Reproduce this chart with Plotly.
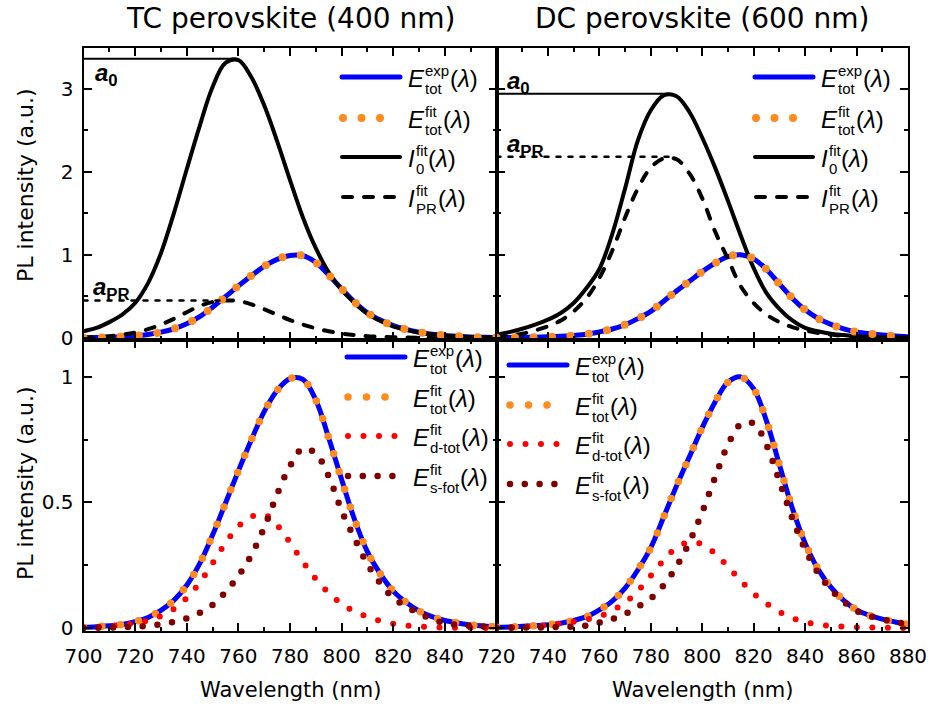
import plotly.graph_objects as go

# ---------------------------------------------------------------- data
WL_TC = list(range(700, 861, 5))
WL_DC = list(range(720, 881, 5))

# TC perovskite (400 nm excitation)
E_EXP_TC = [0.003, 0.005, 0.009, 0.014, 0.025, 0.042, 0.070, 0.110, 0.170, 0.256,
            0.370, 0.497, 0.626, 0.749, 0.862, 0.946, 0.993, 0.990, 0.908, 0.757,
            0.591, 0.432, 0.303, 0.215, 0.147, 0.102, 0.068, 0.045, 0.030, 0.020,
            0.012, 0.008, 0.005]
E_FIT_TC = E_EXP_TC
I0_TC = [0.08, 0.12, 0.19, 0.28, 0.42, 0.66, 1.02, 1.50, 2.03, 2.55,
         3.02, 3.31, 3.345, 3.14, 2.80, 2.37, 1.90, 1.45, 1.08, 0.79,
         0.58, 0.42, 0.29, 0.205, 0.14, 0.097, 0.064, 0.043, 0.028, 0.018,
         0.011, 0.007, 0.005]
IPR_TC = [0.005, 0.010, 0.020, 0.038, 0.065, 0.105, 0.160, 0.230, 0.310, 0.385,
          0.432, 0.450, 0.445, 0.405, 0.345, 0.280, 0.215, 0.160, 0.115, 0.080,
          0.053, 0.034, 0.021, 0.013, 0.008, 0.005, 0.003, 0.002, 0.001, 0.001,
          0.0, 0.0, 0.0]
D_TOT_TC = [0.002, 0.004, 0.007, 0.012, 0.019, 0.030, 0.048, 0.076, 0.120, 0.180,
            0.258, 0.338, 0.405, 0.443, 0.452, 0.410, 0.340, 0.264, 0.195, 0.140,
            0.097, 0.066, 0.045, 0.028, 0.017, 0.010, 0.006, 0.003, 0.002, 0.001,
            0.001, 0.0, 0.0]
S_FOT_TC = [0.0, 0.001, 0.002, 0.003, 0.005, 0.009, 0.015, 0.024, 0.038, 0.060,
            0.092, 0.143, 0.207, 0.290, 0.400, 0.532, 0.645, 0.715, 0.695, 0.604,
            0.467, 0.357, 0.254, 0.178, 0.120, 0.086, 0.058, 0.035, 0.020, 0.012,
            0.008, 0.006, 0.004]
A0_TC, A0_TC_WL = 3.36, 758
APR_TC, APR_TC_WL = 0.45, 757

# DC perovskite (600 nm excitation)
E_EXP_DC = [0.003, 0.004, 0.007, 0.009, 0.013, 0.019, 0.030, 0.045, 0.072, 0.107,
            0.159, 0.232, 0.320, 0.442, 0.566, 0.682, 0.798, 0.900, 0.979, 1.000,
            0.952, 0.824, 0.650, 0.478, 0.338, 0.235, 0.163, 0.110, 0.072, 0.050,
            0.035, 0.024, 0.014]
E_FIT_DC = E_EXP_DC
I0_DC = [0.04, 0.07, 0.11, 0.16, 0.22, 0.30, 0.42, 0.60, 0.83, 1.25,
         1.80, 2.38, 2.74, 2.92, 2.91, 2.72, 2.41, 2.05, 1.65, 1.23,
         0.84, 0.54, 0.35, 0.21, 0.12, 0.08, 0.05, 0.035, 0.02, 0.013,
         0.008, 0.005, 0.004]
IPR_DC = [0.02, 0.03, 0.05, 0.09, 0.14, 0.21, 0.32, 0.48, 0.72, 1.05,
          1.45, 1.80, 2.05, 2.16, 2.15, 1.98, 1.68, 1.28, 0.95, 0.62,
          0.42, 0.28, 0.19, 0.13, 0.09, 0.06, 0.04, 0.025, 0.015, 0.010,
          0.005, 0.003, 0.002]
D_TOT_DC = [0.002, 0.003, 0.005, 0.008, 0.012, 0.018, 0.025, 0.034, 0.046, 0.070,
            0.101, 0.148, 0.208, 0.270, 0.320, 0.342, 0.333, 0.296, 0.245, 0.188,
            0.137, 0.097, 0.064, 0.040, 0.024, 0.014, 0.008, 0.005, 0.003, 0.002,
            0.001, 0.0, 0.0]
S_FOT_DC = [0.001, 0.001, 0.002, 0.002, 0.003, 0.004, 0.006, 0.010, 0.022, 0.036,
            0.056, 0.085, 0.118, 0.170, 0.245, 0.342, 0.462, 0.600, 0.730, 0.812,
            0.815, 0.728, 0.585, 0.438, 0.313, 0.220, 0.153, 0.105, 0.068, 0.048,
            0.034, 0.024, 0.014]
A0_DC, A0_DC_WL = 2.94, 787.5
APR_DC, APR_DC_WL = 2.18, 787

# axis ticks
XT_TC = [700, 720, 740, 760, 780, 800, 820, 840]
XT_TC_MINOR = [710, 730, 750, 770, 790, 810, 830, 850]
XT_DC = [720, 740, 760, 780, 800, 820, 840, 860, 880]
XT_DC_MINOR = [730, 750, 770, 790, 810, 830, 850, 870]
YT_TOP = [0, 1, 2, 3]
YT_TOP_MINOR = [0.5, 1.5, 2.5]
YT_BOT = [0, 0.5, 1]
YT_BOT_MINOR = [0.25, 0.75]

TITLES = ["TC perovskite (400 nm)", "DC perovskite (600 nm)"]

# ---------------------------------------------------------------- styles
W, H = 933, 713
BLUE, ORANGE, RED, BROWN = "#0000FF", "#FF8A1E", "#FF0000", "#800000"
SANS = "DejaVu Sans, Verdana, sans-serif"
ARIAL = "Liberation Sans, Arial, sans-serif"

COL_L = (83.5, 496.5)
COL_R = (496.5, 908.0)
ROW_T = (48.0, 340.0)
ROW_B = (340.0, 631.0)


def fx(px):
    return px / W


def fy(py):
    return 1 - py / H


fig = go.Figure()


def curve(x, y, axes, color, width, dash="solid"):
    fig.add_trace(go.Scatter(
        x=x, y=y, xaxis=axes[0], yaxis=axes[1], mode="lines",
        line=dict(color=color, width=width, dash=dash, shape="spline", smoothing=1),
        showlegend=False, hoverinfo="skip"))


DOT_ORANGE_TOP = "0px,18.5px"
DOT_ORANGE_BOT = "0px,18.5px"
DOT_RED = "0px,15.5px"
DOT_BROWN = "0px,14.8px"
DASH_PR = "9px,12px"
DOT_REF = "4px,8px"

# top-left
curve(WL_TC, E_EXP_TC, ("x", "y"), BLUE, 5)
curve(WL_TC, I0_TC, ("x", "y"), "black", 4)
curve(WL_TC, IPR_TC, ("x", "y"), "black", 4, DASH_PR)
curve(WL_TC, E_FIT_TC, ("x", "y"), ORANGE, 8, DOT_ORANGE_TOP)
curve([700, A0_TC_WL], [A0_TC, A0_TC], ("x", "y"), "black", 2)
curve([700, APR_TC_WL], [APR_TC, APR_TC], ("x", "y"), "black", 2.5, DOT_REF)

# top-right
curve(WL_DC, E_EXP_DC, ("x2", "y2"), BLUE, 5)
curve(WL_DC, I0_DC, ("x2", "y2"), "black", 4)
curve(WL_DC, IPR_DC, ("x2", "y2"), "black", 4, DASH_PR)
curve(WL_DC, E_FIT_DC, ("x2", "y2"), ORANGE, 8, DOT_ORANGE_TOP)
curve([720, A0_DC_WL], [A0_DC, A0_DC], ("x2", "y2"), "black", 2)
curve([720, APR_DC_WL], [APR_DC, APR_DC], ("x2", "y2"), "black", 2.5, DOT_REF)

# bottom-left
curve(WL_TC, E_EXP_TC, ("x3", "y3"), BLUE, 5)
curve(WL_TC, E_FIT_TC, ("x3", "y3"), ORANGE, 7.5, DOT_ORANGE_BOT)
curve(WL_TC, D_TOT_TC, ("x3", "y3"), RED, 6, DOT_RED)
curve(WL_TC, S_FOT_TC, ("x3", "y3"), BROWN, 6.5, DOT_BROWN)

# bottom-right
curve(WL_DC, E_EXP_DC, ("x4", "y4"), BLUE, 5)
curve(WL_DC, E_FIT_DC, ("x4", "y4"), ORANGE, 7.5, DOT_ORANGE_BOT)
curve(WL_DC, D_TOT_DC, ("x4", "y4"), RED, 6, DOT_RED)
curve(WL_DC, S_FOT_DC, ("x4", "y4"), BROWN, 6.5, DOT_BROWN)

# ---------------------------------------------------------------- axes
tick_font = dict(family=SANS, size=20, color="black")


def xaxis(col, rng, major, minor, anchor, labels):
    return dict(domain=[fx(col[0]), fx(col[1])], range=rng, anchor=anchor,
                tickmode="array", tickvals=major, showticklabels=labels,
                ticks="inside", ticklen=8, tickwidth=2, tickcolor="black",
                minor=dict(tickmode="array", tickvals=minor, ticks="inside",
                           ticklen=4, tickwidth=2, tickcolor="black", showgrid=False),
                showline=True, linecolor="black", linewidth=2, mirror="allticks",
                showgrid=False, zeroline=False, automargin=False,
                tickfont=tick_font, ticklabelstandoff=6)


def yaxis(row, rng, major, minor, anchor, labels):
    return dict(domain=[fy(row[1]), fy(row[0])], range=rng, anchor=anchor,
                tickmode="array", tickvals=major, showticklabels=labels,
                ticks="inside", ticklen=8, tickwidth=2, tickcolor="black",
                minor=dict(tickmode="array", tickvals=minor, ticks="inside",
                           ticklen=4, tickwidth=2, tickcolor="black", showgrid=False),
                showline=True, linecolor="black", linewidth=2, mirror="allticks",
                showgrid=False, zeroline=False, automargin=False,
                tickfont=tick_font, ticklabelstandoff=4)


Y_TOP_RANGE = [-0.025, 3.49]
Y_BOT_RANGE = [-0.012, 1.147]

fig.update_layout(
    width=W, height=H, margin=dict(l=0, r=0, t=0, b=0),
    paper_bgcolor="white", plot_bgcolor="white", showlegend=False,
    xaxis=xaxis(COL_L, [700, 860], XT_TC, XT_TC_MINOR, "y", False),
    yaxis=yaxis(ROW_T, Y_TOP_RANGE, YT_TOP, YT_TOP_MINOR, "x", True),
    xaxis2=xaxis(COL_R, [720, 880], XT_DC, XT_DC_MINOR, "y2", False),
    yaxis2=yaxis(ROW_T, Y_TOP_RANGE, YT_TOP, YT_TOP_MINOR, "x2", False),
    xaxis3=xaxis(COL_L, [700, 860], XT_TC, XT_TC_MINOR, "y3", True),
    yaxis3=yaxis(ROW_B, Y_BOT_RANGE, YT_BOT, YT_BOT_MINOR, "x3", True),
    xaxis4=xaxis(COL_R, [720, 880], XT_DC, XT_DC_MINOR, "y4", True),
    yaxis4=yaxis(ROW_B, Y_BOT_RANGE, YT_BOT, YT_BOT_MINOR, "x4", False),
)

# ---------------------------------------------------------------- text
annotations = []
shapes = []


def text(x, y, s, size, family=ARIAL, xanchor="left", yanchor="middle", angle=0):
    annotations.append(dict(
        x=fx(x), y=fy(y), xref="paper", yref="paper", text=s, showarrow=False,
        xanchor=xanchor, yanchor=yanchor, textangle=angle, borderpad=0,
        font=dict(family=family, size=size, color="black")))


# panel titles and axis titles
text((COL_L[0] + COL_L[1]) / 2, 19, TITLES[0], 28, SANS, "center")
text((COL_R[0] + COL_R[1]) / 2, 19, TITLES[1], 28, SANS, "center")
text((COL_L[0] + COL_L[1]) / 2, 690, "Wavelength (nm)", 21, SANS, "center")
text((COL_R[0] + COL_R[1]) / 2, 690, "Wavelength (nm)", 21, SANS, "center")
text(25, 186, "PL intensity (a.u.)", 22, SANS, "center", angle=-90)
text(25, 484, "PL intensity (a.u.)", 22, SANS, "center", angle=-90)

# amplitude labels
text(94, 75, "<b><i>a</i><sub>0</sub></b>", 24)
text(92, 288, "<b><i>a</i><sub>PR</sub></b>", 24)
text(506, 82, "<b><i>a</i><sub>0</sub></b>", 24)
text(506, 145, "<b><i>a</i><sub>PR</sub></b>", 24)

# legend helpers
SMALL_W = {"e": .556, "x": .5, "p": .556, "t": .278, "o": .556, "f": .278, "i": .222,
           "d": .556, "-": .333, "s": .5, "0": .556, "P": .667, "R": .722}
MAIN_W = {"E": .667, "I": .278}
MAIN_SIZE, SCRIPT_SIZE = 24, 15


def swidth(s):
    return sum(SMALL_W[c] for c in s) * SCRIPT_SIZE


def legend_entry(x_line0, x_line1, y_line, x_text, main, sup, sub, color, width, dash):
    shapes.append(dict(type="line", xref="paper", yref="paper",
                       x0=fx(x_line0), x1=fx(x_line1), y0=fy(y_line), y1=fy(y_line),
                       line=dict(color=color, width=width, dash=dash)))
    c = y_line + 1.5
    text(x_text, c, "<i>%s</i>" % main, MAIN_SIZE)
    xs = x_text + MAIN_W[main] * MAIN_SIZE + 1
    text(xs, c - 8, sup, SCRIPT_SIZE)
    text(xs, c + 10, sub, SCRIPT_SIZE)
    xp = xs + max(swidth(sup), swidth(sub)) + 1
    text(xp, c, "(<i>λ</i>)", MAIN_SIZE)


def top_legend(dx):
    x0 = 342 + dx
    legend_entry(x0, x0 + 58, 77, x0 + 65, "E", "exp", "tot", BLUE, 5, "solid")
    legend_entry(x0 + 1, x0 + 40, 118, x0 + 65, "E", "fit", "tot", ORANGE, 8, DOT_ORANGE_TOP)
    legend_entry(x0, x0 + 58, 157, x0 + 65, "I", "fit", "0", "black", 4, "solid")
    legend_entry(x0 + 1, x0 + 56, 197, x0 + 65, "I", "fit", "PR", "black", 4, DASH_PR)


def bottom_legend(x0, y0):
    legend_entry(x0, x0 + 58, y0, x0 + 65, "E", "exp", "tot", BLUE, 5, "solid")
    legend_entry(x0 + 1, x0 + 40, y0 + 40, x0 + 65, "E", "fit", "tot", ORANGE, 7.5, DOT_ORANGE_BOT)
    legend_entry(x0 + 1, x0 + 48, y0 + 79, x0 + 65, "E", "fit", "d-tot", RED, 6, DOT_RED)
    legend_entry(x0 + 1, x0 + 48, y0 + 119, x0 + 65, "E", "fit", "s-fot", BROWN, 6.5, DOT_BROWN)


top_legend(0)
top_legend(413)
bottom_legend(347, 357)
bottom_legend(509, 365)

fig.update_layout(annotations=annotations, shapes=shapes)

# round line caps turn zero-length dashes into round dots
ROUND_CAPS = ("var s=document.createElement('style');"
              "s.textContent='.js-line,.shapelayer path{stroke-linecap:round;}';"
              "document.head.appendChild(s);")

fig.write_html("out.html", post_script=ROUND_CAPS)
